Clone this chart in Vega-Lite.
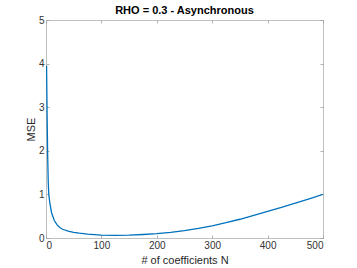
{
  "$schema": "https://vega.github.io/schema/vega-lite/v6.json",
  "autosize": "none",
  "width": 277,
  "height": 218,
  "padding": {"left": 46, "top": 20, "right": 34, "bottom": 30},
  "background": "white",
  "config": {
    "font": "Liberation Sans",
    "view": {"stroke": "#c0c0c0", "strokeWidth": 1},
    "axis": {"grid": false, "domain": false, "tickSize": -3, "tickColor": "#a0a0a0", "tickWidth": 0.8, "labelColor": "#333333", "labelFontSize": 10, "titleColor": "#262626", "titleFontSize": 11, "titleFontWeight": "normal", "labelPadding": 5}
  },
  "title": {"text": "RHO = 0.3 - Asynchronous", "fontSize": 11, "fontWeight": "bold", "color": "#000000", "offset": -1, "font": "Liberation Sans"},
  "data": {"values": [
    {"N": 1, "MSE": 3.95}, {"N": 2, "MSE": 2.8}, {"N": 3, "MSE": 1.9}, {"N": 4, "MSE": 1.3},
    {"N": 5, "MSE": 1.0}, {"N": 7, "MSE": 0.8}, {"N": 10, "MSE": 0.58}, {"N": 15, "MSE": 0.4},
    {"N": 20, "MSE": 0.3}, {"N": 25, "MSE": 0.24}, {"N": 30, "MSE": 0.2}, {"N": 40, "MSE": 0.16},
    {"N": 50, "MSE": 0.13}, {"N": 60, "MSE": 0.11}, {"N": 75, "MSE": 0.09}, {"N": 100, "MSE": 0.065},
    {"N": 125, "MSE": 0.06}, {"N": 150, "MSE": 0.065}, {"N": 175, "MSE": 0.08}, {"N": 200, "MSE": 0.1},
    {"N": 225, "MSE": 0.13}, {"N": 250, "MSE": 0.17}, {"N": 275, "MSE": 0.22}, {"N": 300, "MSE": 0.28},
    {"N": 325, "MSE": 0.35}, {"N": 350, "MSE": 0.43}, {"N": 375, "MSE": 0.52}, {"N": 400, "MSE": 0.61},
    {"N": 425, "MSE": 0.7}, {"N": 450, "MSE": 0.8}, {"N": 475, "MSE": 0.9}, {"N": 500, "MSE": 1.0}
  ]},
  "layer": [
    {
      "mark": {"type": "line", "color": "#0072BD", "strokeWidth": 1.3, "clip": true},
      "encoding": {
        "x": {"field": "N", "type": "quantitative", "scale": {"domain": [0, 500], "nice": false}, "axis": {"orient": "bottom", "title": "# of coefficients N", "values": [0, 100, 200, 300, 400, 500], "titlePadding": 4}},
        "y": {"field": "MSE", "type": "quantitative", "scale": {"domain": [0, 5], "nice": false}, "axis": {"orient": "left", "title": "MSE", "values": [0, 1, 2, 3, 4, 5], "titlePadding": 2}}
      }
    },
    {
      "mark": {"type": "line", "opacity": 0},
      "encoding": {
        "x": {"field": "N", "type": "quantitative", "axis": {"orient": "top", "title": null, "labels": false, "values": [0, 100, 200, 300, 400, 500]}},
        "y": {"field": "MSE", "type": "quantitative", "axis": {"orient": "right", "title": null, "labels": false, "values": [0, 1, 2, 3, 4, 5]}}
      }
    }
  ]
}
